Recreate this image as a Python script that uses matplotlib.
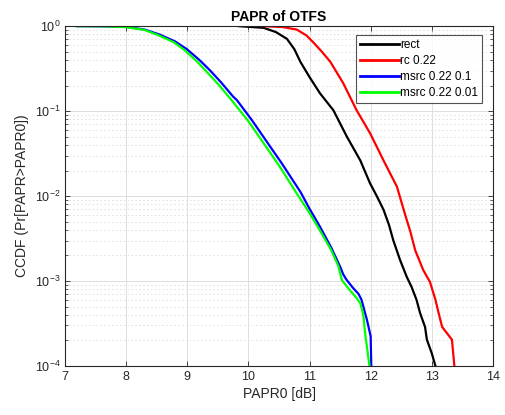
import numpy as np
import matplotlib
matplotlib.use("Agg")
import matplotlib.pyplot as plt
from matplotlib.ticker import LogLocator, NullFormatter, FixedLocator

plt.rcParams['font.family'] = ['Liberation Sans', 'DejaVu Sans']

# PAPR0 [dB] and log10(CCDF)
rect_x = [9.84, 10.25, 10.45, 10.63, 10.75, 10.85, 11.00, 11.17, 11.39, 11.61, 11.83, 11.99, 12.10, 12.21,
          12.30, 12.37, 12.48, 12.59, 12.67, 12.75, 12.81, 12.89, 12.92, 13.00, 13.06]
rect_l = [0, -0.02, -0.07, -0.15, -0.27, -0.42, -0.60, -0.79, -0.99, -1.30, -1.58, -1.85, -2.00, -2.16,
          -2.34, -2.52, -2.75, -2.95, -3.07, -3.22, -3.38, -3.54, -3.69, -3.85, -4.0]

rc_x = [10.25, 10.55, 10.79, 10.95, 11.06, 11.20, 11.34, 11.55, 11.77, 11.99, 12.21, 12.43, 12.54, 12.59,
        12.65, 12.73, 12.86, 12.97, 13.06, 13.12, 13.17, 13.33, 13.37]
rc_l = [0, -0.01, -0.04, -0.11, -0.19, -0.30, -0.42, -0.67, -0.99, -1.26, -1.58, -1.89, -2.16, -2.28,
        -2.42, -2.64, -2.87, -3.01, -3.22, -3.40, -3.54, -3.69, -4.0]

msrc1_x = [7.19, 7.6, 8.01, 8.3, 8.55, 8.8, 8.99, 9.2, 9.37, 9.55, 9.75, 9.81, 10.05, 10.3, 10.55, 10.85,
           11.0, 11.17, 11.35, 11.50, 11.55, 11.6, 11.71, 11.80, 11.85, 11.94, 12.0, 12.01]
msrc1_l = [0, -0.002, -0.01, -0.04, -0.10, -0.18, -0.27, -0.40, -0.52, -0.66, -0.83, -0.87, -1.10, -1.36,
           -1.62, -1.95, -2.15, -2.36, -2.60, -2.83, -2.92, -2.98, -3.08, -3.15, -3.22, -3.46, -3.65, -4.0]

msrc2_x = [7.19, 7.6, 8.0, 8.3, 8.52, 8.78, 8.95, 9.15, 9.32, 9.5, 9.7, 10.0, 10.25, 10.5, 10.8, 11.0,
           11.15, 11.35, 11.47, 11.53, 11.65, 11.77, 11.83, 11.88, 11.91, 11.96, 11.98]
msrc2_l = [0, -0.002, -0.012, -0.045, -0.105, -0.19, -0.28, -0.41, -0.54, -0.68, -0.85, -1.12, -1.38,
           -1.64, -1.98, -2.2, -2.38, -2.63, -2.82, -2.99, -3.1, -3.2, -3.26, -3.40, -3.62, -3.89, -4.0]

labels = ['rect', 'rc 0.22', 'msrc 0.22 0.1', 'msrc 0.22 0.01']
colors = ['#000000', '#ff0000', '#0000ff', '#00ff00']
xticks = [7, 8, 9, 10, 11, 12, 13, 14]

fig = plt.figure(figsize=(5.05, 4.15), dpi=100)
ax = fig.add_axes([0.129, 0.118, 0.847, 0.819])

series = [(rect_x, rect_l), (rc_x, rc_l), (msrc1_x, msrc1_l), (msrc2_x, msrc2_l)]
for (x, l), c, lab in zip(series, colors, labels):
    ax.semilogy(x, 10 ** np.array(l), color=c, lw=1.6, label=lab)

ax.set_xlim(7, 14)
ax.set_ylim(1e-4, 1)
ax.xaxis.set_major_locator(FixedLocator(xticks))
ax.yaxis.set_major_locator(LogLocator(base=10, numticks=10))
ax.yaxis.set_minor_locator(LogLocator(base=10, subs=np.arange(2, 10), numticks=10))
ax.yaxis.set_minor_formatter(NullFormatter())

tc = '#262626'
ax.grid(True, which='major', color='#dedede', lw=0.7, ls='-')
ax.grid(True, which='minor', axis='y', color='#e0e0e0', lw=0.7, ls=(0, (1.5, 2.5)))
ax.set_axisbelow(True)
ax.tick_params(which='both', direction='in', top=True, right=True, colors=tc, labelsize=9, labelcolor=tc)
ax.tick_params(which='major', length=3.5, width=0.6)
ax.tick_params(which='minor', length=2, width=0.5)
for s in ax.spines.values():
    s.set_color(tc)
    s.set_linewidth(0.8)

ax.set_xlabel('PAPR0 [dB]', fontsize=10, color=tc, labelpad=3)
ax.set_ylabel('CCDF (Pr[PAPR>PAPR0])', fontsize=10, color=tc, labelpad=4)
ax.set_title('PAPR of OTFS', fontsize=10, fontweight='bold', pad=4)

leg = ax.legend(loc='upper right', bbox_to_anchor=(0.975, 0.975), fontsize=8.5, frameon=True,
                fancybox=False, edgecolor=tc, handlelength=3.3, handletextpad=0.1,
                borderpad=0.35, labelspacing=0.35, borderaxespad=0)
leg.get_frame().set_linewidth(0.8)
for line in leg.get_lines():
    line.set_linewidth(2.0)

fig.savefig('out.png', dpi=100, facecolor='white')
